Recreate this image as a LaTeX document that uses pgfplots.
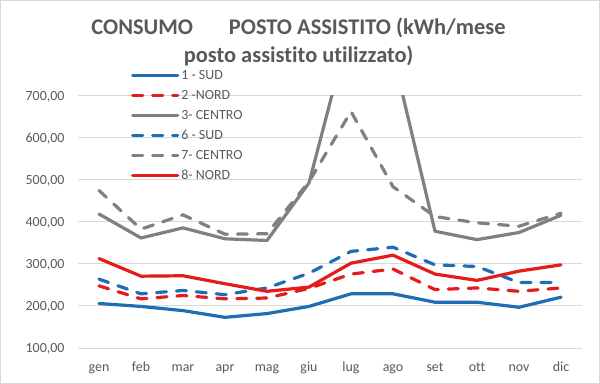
\documentclass[border=0pt]{standalone}
\usepackage{fontspec}
\setmainfont{Carlito}[Ligatures=NoCommon]
\usepackage{pgfplots}
\pgfplotsset{compat=1.18}
\definecolor{cblue}{RGB}{31,110,180}
\definecolor{cred}{RGB}{228,28,28}
\definecolor{cgray}{RGB}{128,128,128}
\definecolor{ctext}{RGB}{89,89,89}
\definecolor{cgrid}{RGB}{217,217,217}
\begin{document}
\begin{tikzpicture}
\path[use as bounding box] (0,0) rectangle (600bp,384bp);
\draw[cgrid, line width=1bp] (0.5bp,0.5bp) rectangle (599.5bp,383.5bp);
\node[anchor=base, text=ctext, font=\fontsize{22.5}{22.5}\selectfont\bfseries] at (298.5bp,349bp) {CONSUMO\hspace{36bp}POSTO ASSISTITO (kWh/mese};
\node[anchor=base, text=ctext, font=\fontsize{22.5}{22.5}\selectfont\bfseries] at (298.5bp,321bp) {posto assistito utilizzato)};
\begin{axis}[
  at={(78bp,36bp)}, anchor=south west,
  scale only axis, width=504bp, height=252bp,
  xmin=-0.5, xmax=11.5, ymin=100, ymax=700,
  xtick={0,...,11},
  xticklabels={gen,feb,mar,apr,mag,giu,lug,ago,set,ott,nov,dic},
  ytick={100,200,...,700},
  ymajorgrids, grid style={cgrid, line width=1bp},
  axis line style={draw=none},
  major tick length=0pt,
  tick label style={text=ctext, font=\fontsize{14}{14}\selectfont},
  xticklabel style={anchor=base, yshift=-23bp},
  yticklabel style={anchor=base east, yshift=-4.5bp, xshift=-10bp},
  /pgf/number format/assume math mode=true,
  yticklabel={\pgfmathprintnumber[fixed, fixed zerofill, precision=2, use comma]{\tick}},
  legend cell align=left,
  legend image code/.code={\draw[#1] (0bp,0bp) -- (45bp,0bp);},
  legend style={at={(rel axis cs:0.105,1.115)}, anchor=north west, draw=none, fill=none,
    font=\fontsize{14}{14}\selectfont, text=ctext,
    nodes={inner sep=2bp, text height=10bp, text depth=3bp},
    row sep=3bp, inner xsep=0bp, inner ysep=0bp},
  every axis plot/.append style={line width=3.2bp, line cap=round, line join=round},
]
\addplot[cblue] coordinates {(0,206)(1,199)(2,189)(3,173)(4,182)(5,199)(6,229)(7,229)(8,209)(9,209)(10,197)(11,221)};
\addlegendentry{1 - SUD}
\addplot[cred, dash pattern=on 10bp off 10bp] coordinates {(0,248)(1,217)(2,225)(3,217)(4,219)(5,242)(6,276)(7,288)(8,239)(9,243)(10,235)(11,243)};
\addlegendentry{2 -NORD}
\addplot[cgray] coordinates {(0,419)(1,362)(2,386)(3,360)(4,356)(5,493)(6,875)(7,800)(8,378)(9,358)(10,375)(11,416)};
\addlegendentry{3- CENTRO}
\addplot[cblue, dash pattern=on 10bp off 10bp] coordinates {(0,264)(1,229)(2,237)(3,227)(4,243)(5,278)(6,330)(7,340)(8,298)(9,294)(10,256)(11,256)};
\addlegendentry{6 - SUD}
\addplot[cgray, dash pattern=on 10bp off 10bp] coordinates {(0,475)(1,383)(2,417)(3,371)(4,372)(5,496)(6,663)(7,484)(8,413)(9,398)(10,390)(11,421)};
\addlegendentry{7- CENTRO}
\addplot[cred] coordinates {(0,313)(1,271)(2,272)(3,253)(4,235)(5,245)(6,302)(7,321)(8,276)(9,261)(10,283)(11,298)};
\addlegendentry{8- NORD}
\end{axis}
\end{tikzpicture}
\end{document}
